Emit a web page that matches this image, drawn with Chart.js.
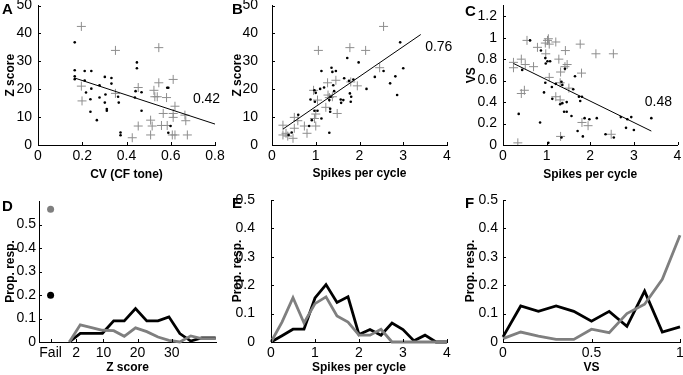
<!DOCTYPE html>
<html>
<head>
<meta charset="utf-8">
<script src="https://cdn.jsdelivr.net/npm/chart.js@4.4.1/dist/chart.umd.min.js"></script>
<style>
  html, body { margin:0; padding:0; background:#fff; }
  #fig { position:relative; width:683px; height:375px; overflow:hidden; font-family:"Liberation Sans", Arial, sans-serif; }
  #fig canvas { position:absolute; }
  .lt { position:absolute; font-weight:bold; font-size:15px; line-height:15px; color:#000; }
</style>
</head>
<body>
<div id="fig">
  <canvas id="cA" width="228" height="190" style="left:0;top:0"></canvas>
  <canvas id="cB" width="227" height="190" style="left:228px;top:0"></canvas>
  <canvas id="cC" width="228" height="190" style="left:455px;top:0"></canvas>
  <canvas id="cD" width="228" height="185" style="left:0;top:190px"></canvas>
  <canvas id="cE" width="227" height="185" style="left:228px;top:190px"></canvas>
  <canvas id="cF" width="228" height="185" style="left:455px;top:190px"></canvas>
  <div class="lt" style="left:2px;top:1px">A</div>
  <div class="lt" style="left:232px;top:1px">B</div>
  <div class="lt" style="left:465px;top:3px">C</div>
  <div class="lt" style="left:2px;top:198px">D</div>
  <div class="lt" style="left:232px;top:195px">E</div>
  <div class="lt" style="left:465px;top:195px">F</div>
</div>
<script>
// ---- data ----
// A: Z score vs CV
const aDots = [[0.166,36.8],[0.166,26.8],[0.166,24.6],[0.166,23.6],[0.211,26.5],[0.241,26.5],[0.211,23.1],[0.217,18.8],
  [0.241,20.2],[0.237,16.4],[0.237,11.9],[0.266,8.9],[0.278,21.4],[0.278,17.0],[0.302,24.4],[0.305,18.1],[0.302,15.2],
  [0.311,12.9],[0.311,12.3],[0.332,24.0],[0.332,22.0],[0.362,17.3],[0.365,15.2],[0.373,4.5],[0.373,3.5],[0.447,29.6],
  [0.447,27.5],[0.441,19.3],[0.438,17.0],[0.468,18.9],[0.468,12.3],[0.584,20.5],[0.589,20.5],[0.599,6.8],[0.589,4.4]];
const aCross = [[0.196,42.5],[0.350,33.9],[0.546,34.9],[0.196,21.1],[0.199,15.8],[0.350,18.5],[0.453,20.6],[0.453,6.8],
  [0.546,22.3],[0.524,19.6],[0.528,17.3],[0.539,17.3],[0.581,17.0],[0.611,23.5],[0.619,13.9],[0.611,11.3],[0.611,9.9],
  [0.566,11.3],[0.664,10.7],[0.668,8.7],[0.509,8.9],[0.516,6.8],[0.558,7.0],[0.584,7.0],[0.509,3.6],[0.426,2.6],
  [0.607,3.6],[0.619,3.6],[0.675,3.6]];
const aFit = [[0.166,24.0],[0.8,7.5]];

// B: Z score vs spikes per cycle
const bDots = [[2.93,36.8],[3.00,27.5],[2.82,24.6],[2.70,22.1],[2.86,17.9],[2.55,26.5],[2.35,24.4],[2.16,20.1],[1.98,29.6],
  [1.72,31.2],[1.86,23.5],[1.76,23.0],[1.78,18.5],[1.81,17.3],[1.80,15.5],[1.63,16.1],[1.58,15.1],[1.57,16.3],[1.65,23.9],
  [1.36,27.7],[1.38,26.2],[1.46,26.5],[1.13,26.5],[1.40,21.4],[1.42,19.3],[1.34,17.3],[1.31,16.1],[1.33,13.0],[1.33,11.9],
  [1.31,4.4],[1.19,20.6],[1.10,20.1],[0.97,19.6],[1.00,18.7],[0.88,16.3],[0.98,15.5],[0.97,12.3],[1.04,12.3],[1.13,9.5],
  [0.91,8.9],[0.85,6.8],[0.60,10.8],[0.45,4.5],[0.38,3.6]];
const bCross = [[2.55,42.5],[1.78,34.9],[2.14,33.9],[1.06,33.9],[2.46,27.7],[1.27,22.3],[1.46,23.2],[1.80,22.6],[1.95,21.2],
  [0.95,19.6],[1.28,17.9],[1.31,17.0],[1.38,17.3],[1.04,16.1],[1.23,13.5],[1.49,11.3],[1.00,11.1],[1.00,6.8],[0.97,9.5],
  [0.51,9.9],[0.59,8.7],[0.25,7.1],[0.51,6.0],[0.74,6.8],[0.80,4.2],[0.25,3.6],[0.36,3.2],[0.48,2.4],[0.32,4.2]];
const bFit = [[0.25,5.7],[3.4,39.6]];

// C: VS vs spikes per cycle
const cDots = [[0.44,0.70],[0.36,0.29],[0.62,0.975],[0.87,0.88],[0.97,0.81],[0.98,0.76],[1.02,0.78],[1.08,0.78],[0.97,0.58],
  [0.94,0.49],[0.85,0.21],[1.04,0.02],[1.12,0.54],[1.21,0.57],[1.34,0.59],[1.36,0.56],[1.42,0.71],[1.13,0.43],[1.31,0.38],
  [1.36,0.39],[1.46,0.40],[1.40,0.31],[1.46,0.31],[1.57,0.27],[1.34,0.07],[1.61,0.52],[1.65,0.64],[1.74,0.45],[1.77,0.41],
  [1.81,0.45],[1.71,0.13],[1.83,0.08],[1.87,0.25],[1.98,0.24],[2.15,0.25],[2.35,0.10],[2.54,0.07],[2.70,0.26],[2.85,0.24],
  [2.94,0.26],[2.82,0.16],[3.00,0.14],[3.40,0.25]];
const cCross = [[0.34,0.02],[0.24,0.77],[0.24,0.72],[0.42,0.80],[0.51,0.75],[0.70,0.73],[0.55,0.975],[0.79,0.91],[0.97,0.95],
  [1.02,0.975],[1.04,0.99],[1.06,0.94],[1.21,0.96],[0.98,0.85],[1.43,0.88],[1.77,0.94],[2.13,0.85],[2.53,0.85],[1.28,0.80],
  [1.47,0.75],[1.42,0.73],[1.32,0.68],[1.80,0.67],[1.06,0.63],[1.31,0.58],[1.51,0.53],[0.49,0.51],[0.42,0.48],[1.21,0.45],
  [1.31,0.42],[1.32,0.08],[1.81,0.21],[1.95,0.18],[2.48,0.10]];
const cFit = [[0.24,0.76],[3.4,0.13]];

// D: distribution of Z scores (Fail plotted at x = -5.5)
const dBins  = [0, 3.2, 6.5, 9.7, 13, 16.1, 19.4, 22.7, 26, 29.2, 32.4, 35.6, 38.8, 42.9];
const dBlack = [0, 0.037, 0.037, 0.037, 0.09, 0.09, 0.142, 0.09, 0.09, 0.107, 0.036, 0.004, 0.017, 0.017];
const dGrey  = [0, 0.073, 0.061, 0.05, 0.048, 0.024, 0.06, 0.044, 0.021, 0.007, 0, 0.026, 0.014, 0.014];
const dFailX = -5.5;
const dFailBlack = 0.199;
const dFailGrey = 0.565;
const dXTicks = [-5.5, 2, 10, 20, 30];
const dXLabels = ['Fail', '2', '10', '20', '30'];

// E: distribution of spikes per cycle
const eBins  = [0, 0.25, 0.5, 0.75, 1, 1.25, 1.5, 1.75, 2, 2.25, 2.5, 2.75, 3, 3.25, 3.5, 3.75, 4];
const eBlack = [0, 0.022, 0.045, 0.045, 0.155, 0.202, 0.139, 0.159, 0.026, 0.044, 0.024, 0.067, 0.044, 0.004, 0.024, 0, 0];
const eGrey  = [0, 0.07, 0.156, 0.067, 0.135, 0.159, 0.092, 0.07, 0.024, 0.024, 0.045, 0, 0, 0, 0, 0, 0];

// F: distribution of VS
const fBins  = [0, 0.1, 0.2, 0.3, 0.4, 0.5, 0.6, 0.7, 0.8, 0.9, 1];
const fBlack = [0.018, 0.127, 0.108, 0.127, 0.108, 0.073, 0.108, 0.055, 0.179, 0.035, 0.053];
const fGrey  = [0.012, 0.035, 0.021, 0.009, 0.009, 0.045, 0.033, 0.1, 0.133, 0.221, 0.376];

const zTicks = [0, 10, 20, 30, 40, 50];
const spcTicks = [0, 1, 2, 3, 4];
const cvTicks = [0, 0.2, 0.4, 0.6, 0.8];
const vsTicks = [0, 0.2, 0.4, 0.6, 0.8, 1, 1.2];
const propTicks = [0, 0.1, 0.2, 0.3, 0.4, 0.5];
const vsXTicks = [0, 0.5, 1];

// ---- drawing ----
const FONT = '"Liberation Sans", Arial, sans-serif';
const GREY_LINE = '#7f7f7f', GREY_MARK = '#8e8e8e';
Chart.defaults.font.family = FONT;
Chart.defaults.color = '#000';

const pts = arr => arr.map(p => ({ x: p[0], y: p[1] }));
const xy = (xs, ys) => xs.map((x, i) => ({ x, y: ys[i] }));

// inward tick marks + the correlation label
const note = {
  id: 'note',
  afterDatasetsDraw(chart, args, opts) {
    const { ctx, chartArea: a, scales: { x, y } } = chart;
    ctx.save();
    ctx.strokeStyle = '#000'; ctx.lineWidth = 1;
    ctx.beginPath();
    x.ticks.forEach(t => { const p = Math.round(x.getPixelForValue(t.value)) + .5; ctx.moveTo(p, a.bottom); ctx.lineTo(p, a.bottom - 3); });
    y.ticks.forEach(t => { const p = Math.round(y.getPixelForValue(t.value)) + .5; ctx.moveTo(a.left, p); ctx.lineTo(a.left + 3, p); });
    ctx.stroke();
    if (opts.text) {
      ctx.font = '14px ' + FONT; ctx.fillStyle = '#000';
      ctx.textAlign = 'left'; ctx.textBaseline = 'middle';
      ctx.fillText(opts.text, x.getPixelForValue(opts.x), y.getPixelForValue(opts.y));
    }
    ctx.restore();
  }
};

function axis(o) {
  return {
    type: 'linear', position: o.pos, min: o.min, max: o.max,
    afterBuildTicks: s => { s.ticks = o.ticks.map(v => ({ value: v })); },
    afterFit: s => {
      if (o.pos === 'left') s.width = o.size; else s.height = o.size;
      s.paddingTop = s.paddingBottom = s.paddingLeft = s.paddingRight = 0;
    },
    grid: { display: false, drawTicks: false },
    border: { display: true, color: '#000', width: 1 },
    ticks: { padding: o.pad, font: { size: 14 }, color: '#000', autoSkip: false, maxRotation: 0,
             callback: o.labels ? (v, i) => o.labels[i] : v => String(v) },
    title: { display: true, text: o.title, color: '#000', font: { size: 12, weight: 'bold' },
             padding: { top: o.tpad, bottom: o.tpad } }
  };
}

function make(id, datasets, pad, xs, ys, label) {
  new Chart(document.getElementById(id), {
    type: 'scatter',
    data: { datasets },
    options: {
      responsive: false, animation: false, devicePixelRatio: 1, events: [],
      layout: { padding: { left: 0, top: pad[0], right: pad[1], bottom: 0 } },
      plugins: { legend: { display: false }, tooltip: { enabled: false }, note: label || {} },
      scales: { x: axis(Object.assign({ pos: 'bottom' }, xs)), y: axis(Object.assign({ pos: 'left' }, ys)) }
    },
    plugins: [note]
  });
}

const fitSet = d => ({ data: pts(d), showLine: true, borderColor: '#000', borderWidth: 1, pointRadius: 0, clip: false });
const dotSet = d => ({ data: pts(d), pointRadius: 1.3, pointBorderWidth: 0, pointBackgroundColor: '#000' });
const crossSet = d => ({ data: pts(d), pointStyle: 'cross', pointRadius: 4.5, pointBorderWidth: 1, pointBorderColor: GREY_MARK });
const lineSet = (xs, ys, c) => ({ data: xy(xs, ys), showLine: true, borderColor: c, borderWidth: 2.8, pointRadius: 0, clip: false });

make('cA', [fitSet(aFit), dotSet(aDots), crossSet(aCross)], [5, 13],
  { min: 0, max: 0.8, ticks: cvTicks, size: 45, pad: 3, title: 'CV (CF tone)', tpad: 8 },
  { min: 0, max: 50, ticks: zTicks, size: 38, pad: 6, title: 'Z score', tpad: 3 },
  { text: '0.42', x: 0.70, y: 16.4 });

make('cB', [fitSet(bFit), dotSet(bDots), crossSet(bCross)], [5, 8],
  { min: 0, max: 4, ticks: spcTicks, size: 45, pad: 3, title: 'Spikes per cycle', tpad: 9 },
  { min: 0, max: 50, ticks: zTicks, size: 44, pad: 14, title: 'Z score', tpad: 2 },
  { text: '0.76', x: 3.5, y: 35 });

make('cC', [fitSet(cFit), dotSet(cDots), crossSet(cCross)], [5, 3],
  { min: 0, max: 4, ticks: spcTicks, size: 45, pad: 3, title: 'Spikes per cycle', tpad: 8 },
  { min: 0, max: 1.3, ticks: vsTicks, size: 48, pad: 6, title: 'VS', tpad: 9 },
  { text: '0.48', x: 3.25, y: 0.40 });

make('cD', [
    lineSet(dBins, dGrey, GREY_LINE), lineSet(dBins, dBlack, '#000'),
    { data: [{ x: dFailX, y: dFailGrey }], pointRadius: 3.5, pointBorderWidth: 0, pointBackgroundColor: GREY_LINE },
    { data: [{ x: dFailX, y: dFailBlack }], pointRadius: 3.5, pointBorderWidth: 0, pointBackgroundColor: '#000' }
  ], [11, 12],
  { min: -8.9, max: 43, ticks: dXTicks, labels: dXLabels, size: 33, pad: 3, title: 'Z score', tpad: 0 },
  { min: 0, max: 0.6, ticks: propTicks, size: 39, pad: 3, title: 'Prop. resp.', tpad: 3 });

make('cE', [lineSet(eBins, eGrey, GREY_LINE), lineSet(eBins, eBlack, '#000')], [10, 8],
  { min: 0, max: 4, ticks: spcTicks, size: 33, pad: 3, title: 'Spikes per cycle', tpad: 0 },
  { min: 0, max: 0.5, ticks: propTicks, size: 43, pad: 16, title: 'Prop. resp.', tpad: 2 });

make('cF', [lineSet(fBins, fGrey, GREY_LINE), lineSet(fBins, fBlack, '#000')], [10, 3],
  { min: 0, max: 1, ticks: vsXTicks, size: 33, pad: 3, title: 'VS', tpad: 0 },
  { min: 0, max: 0.5, ticks: propTicks, size: 48, pad: 5, title: 'Prop. resp.', tpad: 8 });
</script>
</body>
</html>
